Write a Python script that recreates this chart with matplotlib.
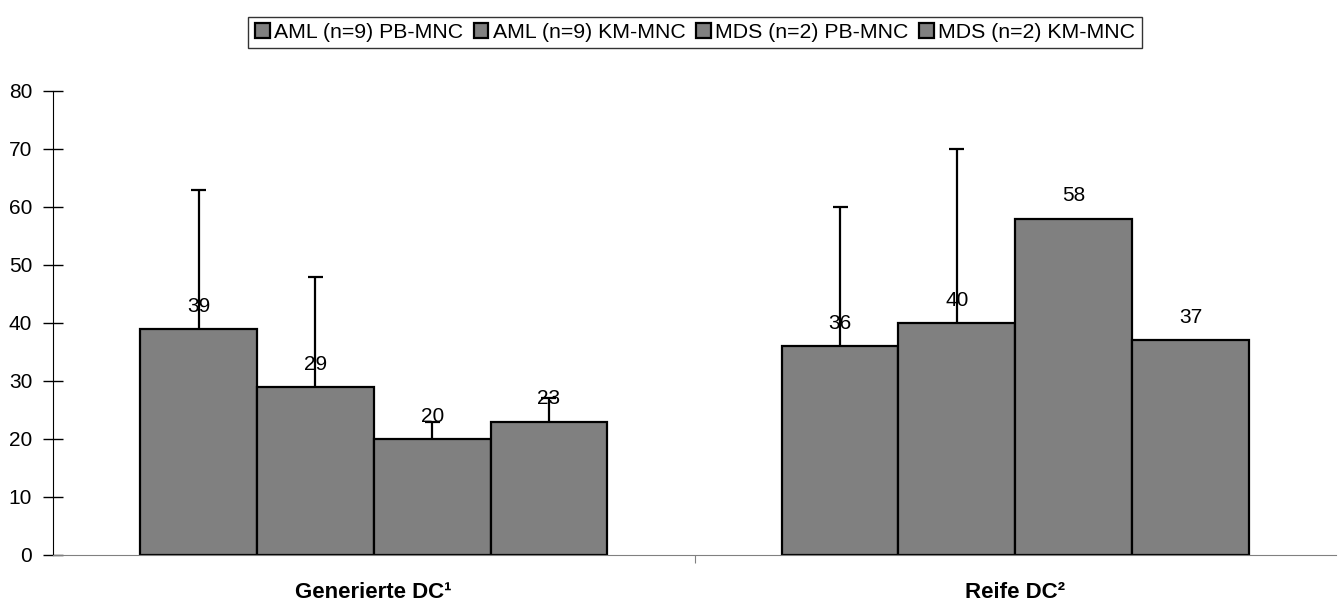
import numpy as np
import matplotlib
matplotlib.use('Agg')
import matplotlib.pyplot as plt

categories = ['Generierte DC\u00b9', 'Reife DC\u00b2']
series = ['AML (n=9) PB-MNC', 'AML (n=9) KM-MNC', 'MDS (n=2) PB-MNC', 'MDS (n=2) KM-MNC']
# values per series, [Generierte, Reife]
values = [[39, 36], [29, 40], [20, 58], [23, 37]]
# upper end of error bars (None = no error bar)
err_top = [[63, 60], [48, 70], [23, None], [27, None]]

plt.rcParams['font.family'] = ['Liberation Sans', 'DejaVu Sans']

fig = plt.figure(figsize=(13.43, 6.08), dpi=100)
ax = fig.add_axes([53/1343, 1-555/608, (1336-53)/1343, (555-91)/608])

x = np.arange(len(categories))
w = 0.182
cap = 0.0117
for i, name in enumerate(series):
    pos = x + (i - 1.5) * w
    ax.bar(pos, values[i], w, color='#808080', edgecolor='black', linewidth=1.6,
           label=name, zorder=2)
    for j in range(len(categories)):
        if err_top[i][j] is not None:
            # upper error bar only
            ax.vlines(pos[j], values[i][j], err_top[i][j], color='black', linewidth=1.6, zorder=3)
            ax.hlines(err_top[i][j], pos[j] - cap, pos[j] + cap, color='black', linewidth=1.6, zorder=3)
        ax.text(pos[j], values[i][j] + 3.9, str(values[i][j]), ha='center', va='center',
                fontsize=15, zorder=4)

ax.set_xlim(-0.5, 1.5)
ax.set_ylim(0, 80)
ax.set_yticks(np.arange(0, 81, 10))
ax.tick_params(axis='y', direction='inout', length=14, width=1, labelsize=15, pad=8)
ax.set_xticks([0.5])
ax.set_xticklabels([''])
ax.tick_params(axis='x', direction='out', length=6, color='#808080')
for j, c in enumerate(categories):
    ax.text(x[j], -6.5, c, ha='center', va='center', fontsize=16, fontweight='bold')

ax.spines['top'].set_visible(False)
ax.spines['right'].set_visible(False)
ax.spines['bottom'].set_color('#808080')
ax.spines['left'].set_color('black')

leg = fig.legend(loc='upper center', bbox_to_anchor=(695/1343, 1-6/608), ncol=4,
                 frameon=True, fancybox=False, edgecolor='black', fontsize=15.3,
                 handlelength=0.7, handleheight=0.7, handletextpad=0.2,
                 columnspacing=0.5, borderpad=0.3)
leg.get_frame().set_linewidth(1)

fig.savefig('out.png', dpi=100)
